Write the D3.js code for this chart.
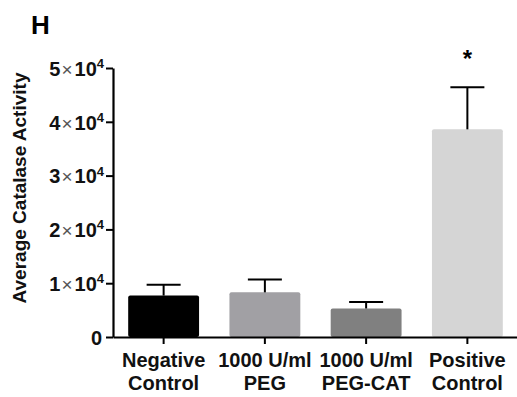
<!DOCTYPE html>
<html>
<head>
<meta charset="utf-8">
<script src="https://cdn.jsdelivr.net/npm/d3@7"></script>
<style>
  body { margin: 0; background: #fff; }
  svg text { font-family: "Liberation Sans", Arial, sans-serif; }
</style>
</head>
<body>
<div id="chart"></div>
<script>
// data
const categories = ["Negative Control", "1000 U/ml PEG", "1000 U/ml PEG-CAT", "Positive Control"];
const labelLines = [["Negative", "Control"], ["1000 U/ml", "PEG"], ["1000 U/ml", "PEG-CAT"], ["Positive", "Control"]];
const means = [7700, 8300, 5300, 38600];
const errors = [2000, 2400, 1200, 7800];
const barColors = ["#000000", "#a1a0a4", "#808080", "#d5d5d5"];
const significant = [false, false, false, true];
const yTicks = [0, 10000, 20000, 30000, 40000, 50000];

const width = 517, height = 397;
const svg = d3.select("#chart").append("svg")
  .attr("width", width)
  .attr("height", height);

const x = d3.scaleBand()
  .domain(categories)
  .range([113, 518])
  .paddingInner(0.3)
  .paddingOuter(0.15);

const y = d3.scaleLinear()
  .domain([0, 50000])
  .range([337, 68]);

// panel letter
svg.append("text")
  .attr("x", 31)
  .attr("y", 34)
  .attr("font-size", 26)
  .attr("font-weight", "bold")
  .text("H");

// bars
svg.selectAll(".bar")
  .data(categories)
  .enter()
  .append("rect")
  .attr("class", "bar")
  .attr("x", d => x(d))
  .attr("y", (d, i) => y(means[i]))
  .attr("width", x.bandwidth())
  .attr("height", (d, i) => y(0) - y(means[i]))
  .attr("rx", 2)
  .attr("fill", (d, i) => barColors[i]);

// error bars (upper only)
const capW = 34;
const err = svg.selectAll(".err")
  .data(categories)
  .enter()
  .append("g")
  .attr("class", "err")
  .attr("stroke", "#000")
  .attr("stroke-width", 2);
err.append("line")
  .attr("x1", d => x(d) + x.bandwidth() / 2)
  .attr("x2", d => x(d) + x.bandwidth() / 2)
  .attr("y1", (d, i) => y(means[i]))
  .attr("y2", (d, i) => y(means[i] + errors[i]));
err.append("line")
  .attr("x1", d => x(d) + x.bandwidth() / 2 - capW / 2)
  .attr("x2", d => x(d) + x.bandwidth() / 2 + capW / 2)
  .attr("y1", (d, i) => y(means[i] + errors[i]))
  .attr("y2", (d, i) => y(means[i] + errors[i]));

// significance star
svg.selectAll(".star")
  .data(categories.filter((d, i) => significant[i]))
  .enter()
  .append("text")
  .attr("class", "star")
  .attr("x", d => x(d) + x.bandwidth() / 2)
  .attr("y", d => y(means[categories.indexOf(d)] + errors[categories.indexOf(d)]) - 6)
  .attr("dy", "-0.6em")
  .attr("text-anchor", "middle")
  .attr("font-size", 24)
  .attr("font-weight", "bold")
  .text("*");

// y axis
const yAxis = svg.append("g")
  .attr("transform", "translate(113,0)")
  .call(d3.axisLeft(y).tickValues(yTicks).tickSize(7).tickPadding(2).tickSizeOuter(0));
yAxis.select(".domain").attr("stroke-width", 2.2);
yAxis.selectAll(".tick line").attr("stroke-width", 2);
yAxis.selectAll(".tick text").each(function(d) {
  const t = d3.select(this).text(null)
    .attr("font-size", 20)
    .attr("font-weight", "bold")
    .attr("fill", "#111")
    .attr("dy", "0.36em");
  if (d === 0) { t.attr("x", -11).text("0"); return; }
  t.append("tspan").text(d / 10000);
  t.append("tspan").attr("font-size", 19).attr("font-weight", "normal").attr("fill", "#555").attr("dx", 1).text("\u00d7");
  t.append("tspan").attr("dx", 2).text("10");
  t.append("tspan").attr("font-size", 13).attr("dy", "-0.6em").text("4");
});

// x axis
const xAxis = svg.append("g")
  .attr("transform", "translate(0,337)")
  .call(d3.axisBottom(x).tickSize(7).tickSizeOuter(0).tickFormat(""));
xAxis.select(".domain").attr("stroke-width", 2.2);
xAxis.selectAll(".tick line").attr("stroke-width", 2);

svg.selectAll(".cat")
  .data(categories)
  .enter()
  .append("text")
  .attr("class", "cat")
  .attr("x", d => x(d) + x.bandwidth() / 2)
  .attr("y", 367)
  .attr("text-anchor", "middle")
  .attr("font-size", 20)
  .attr("font-weight", "bold")
  .attr("fill", "#111")
  .each(function(d, i) {
    const el = d3.select(this);
    labelLines[i].forEach((line, k) => {
      el.append("tspan")
        .attr("x", x(d) + x.bandwidth() / 2)
        .attr("dy", k === 0 ? 0 : 23)
        .text(line);
    });
  });

// y axis title
svg.append("text")
  .attr("transform", "translate(26,188) rotate(-90)")
  .attr("text-anchor", "middle")
  .attr("font-size", 19)
  .attr("font-weight", "bold")
  .attr("fill", "#111")
  .text("Average Catalase Activity");
</script>
</body>
</html>
